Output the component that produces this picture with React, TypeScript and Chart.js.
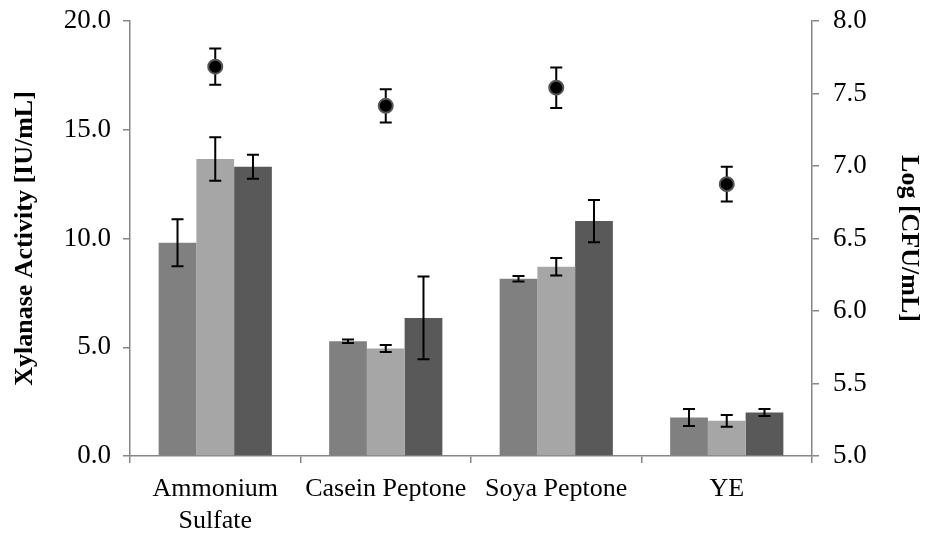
import React, { useEffect, useRef } from "react";
import { Chart, registerables } from "chart.js";

Chart.register(...registerables);

const categories: (string | string[])[] = [["Ammonium", "Sulfate"], "Casein Peptone", "Soya Peptone", "YE"];
const series1 = [9.8, 5.28, 8.15, 1.77];
const series1Err = [1.08, 0.08, 0.13, 0.39];
const series2 = [13.65, 4.94, 8.7, 1.62];
const series2Err = [1.0, 0.16, 0.4, 0.27];
const series3 = [13.3, 6.35, 10.8, 2.0];
const series3Err = [0.55, 1.9, 0.97, 0.16];
const cfu = [7.685, 7.415, 7.54, 6.875];
const cfuErr = [0.125, 0.115, 0.14, 0.12];
const barColors = ["#808080", "#a6a6a6", "#595959"];

const errorPlugin = {
  id: "errorBars",
  beforeDatasetDraw(chart: any, args: any) {
    if (args.index !== 3) return;
    const ctx = chart.ctx;
    const y = chart.scales.y;
    const y1 = chart.scales.y1;
    const errs = [series1Err, series2Err, series3Err];
    const vals = [series1, series2, series3];
    ctx.save();
    ctx.strokeStyle = "#000";
    ctx.lineWidth = 2;
    const draw = (x: number, top: number, bot: number) => {
      ctx.beginPath();
      ctx.moveTo(x, top);
      ctx.lineTo(x, bot);
      ctx.moveTo(x - 6, top);
      ctx.lineTo(x + 6, top);
      ctx.moveTo(x - 6, bot);
      ctx.lineTo(x + 6, bot);
      ctx.stroke();
    };
    for (let d = 0; d < 3; d++) {
      const meta = chart.getDatasetMeta(d);
      meta.data.forEach((el: any, i: number) => {
        draw(el.x, y.getPixelForValue(vals[d][i] + errs[d][i]), y.getPixelForValue(vals[d][i] - errs[d][i]));
      });
    }
    const lm = chart.getDatasetMeta(3);
    lm.data.forEach((el: any, i: number) => {
      draw(el.x, y1.getPixelForValue(cfu[i] + cfuErr[i]), y1.getPixelForValue(cfu[i] - cfuErr[i]));
    });
    ctx.restore();
  },
};

export default function App() {
  const ref = useRef<HTMLCanvasElement>(null);
  useEffect(() => {
    const font = "'Liberation Serif', 'Times New Roman', serif";
    const axisColor = "#868686";
    const chart = new Chart(ref.current!, {
      type: "bar",
      data: {
        labels: categories,
        datasets: [
          { label: "S1", data: series1, backgroundColor: barColors[0], yAxisID: "y", order: 1 },
          { label: "S2", data: series2, backgroundColor: barColors[1], yAxisID: "y", order: 1 },
          { label: "S3", data: series3, backgroundColor: barColors[2], yAxisID: "y", order: 1 },
          {
            type: "line",
            label: "CFU",
            data: cfu,
            yAxisID: "y1",
            showLine: false,
            pointRadius: 7,
            pointBackgroundColor: "#000",
            pointBorderColor: "#555",
            pointBorderWidth: 2,
            order: 0,
          } as any,
        ],
      },
      options: {
        responsive: false,
        animation: false,
        layout: { padding: { top: 21, right: 0, left: 0, bottom: 0 } },
        datasets: { bar: { categoryPercentage: 0.664, barPercentage: 1 } },
        plugins: { legend: { display: false }, tooltip: { enabled: false } },
        scales: {
          x: {
            grid: { display: true, drawOnChartArea: false, drawTicks: true, tickLength: 7, color: axisColor, lineWidth: 1.5, offset: true },
            border: { color: axisColor, width: 1.5 },
            ticks: { color: "#000", font: { family: font, size: 26, lineHeight: 1.2 }, padding: 11, maxRotation: 0, autoSkip: false },
            afterFit: (s: any) => { s.height = 77; s.paddingLeft = 0; s.paddingRight = 0; },
          },
          y: {
            position: "left",
            min: 0,
            max: 20,
            grid: { display: true, drawOnChartArea: false, drawTicks: true, tickLength: 7, color: axisColor, lineWidth: 1.5 },
            border: { color: axisColor, width: 1.5 },
            ticks: { stepSize: 5, color: "#000", font: { family: font, size: 27 }, padding: 12, callback: (v: any) => Number(v).toFixed(1) },
            title: { display: true, text: "Xylanase Activity [IU/mL]", color: "#000", font: { family: font, size: 26, weight: "bold" }, padding: { top: 10, bottom: 4 } },
            afterFit: (s: any) => { s.width = 130; s.paddingTop = 0; s.paddingBottom = 0; },
          },
          y1: {
            position: "right",
            min: 5,
            max: 8,
            grid: { display: true, drawOnChartArea: false, drawTicks: true, tickLength: 7, color: axisColor, lineWidth: 1.5 },
            border: { color: axisColor, width: 1.5 },
            ticks: { stepSize: 0.5, color: "#000", font: { family: font, size: 27 }, padding: 14, callback: (v: any) => Number(v).toFixed(1) },
            title: { display: true, text: "Log [CFU/mL]", color: "#000", font: { family: font, size: 26, weight: "bold" }, padding: { top: 4, bottom: 0 } },
            afterFit: (s: any) => { s.width = 116; s.paddingTop = 0; s.paddingBottom = 0; },
          },
        },
      } as any,
      plugins: [errorPlugin],
    });
    return () => chart.destroy();
  }, []);
  return (
    <div style={{ position: "fixed", left: 0, top: 0, width: 928, height: 533, background: "#fff" }}>
      <canvas ref={ref} width={928} height={533} />
    </div>
  );
}
